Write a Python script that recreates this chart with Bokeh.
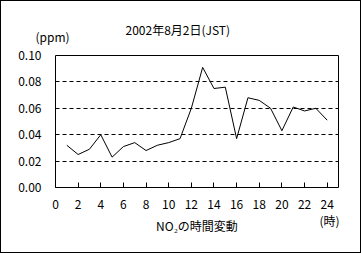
from bokeh.plotting import figure
from bokeh.models import Range1d, FixedTicker, NumeralTickFormatter, Title, LinearAxis
from bokeh.embed import file_html
from bokeh.resources import INLINE

hours = list(range(1, 25))
no2 = [0.032, 0.025, 0.029, 0.040, 0.023, 0.031, 0.034, 0.028, 0.032, 0.034,
       0.037, 0.060, 0.091, 0.075, 0.076, 0.037, 0.068, 0.066, 0.060, 0.043,
       0.061, 0.058, 0.060, 0.051]
x_ticks = list(range(0, 25, 2))
y_ticks = [0.0, 0.02, 0.04, 0.06, 0.08, 0.10]
title_text = "2002年8月2日(JST)"
unit_text = "(ppm)"
hour_text = "(時)"
xlabel_text = "NO₂の時間変動"
hour_pos = 24.2

FONT = "Noto Sans CJK JP"
W, H = 361, 253
L, R, T, B = 55, 23, 55, 66

p = figure(width=W, height=H, output_backend="svg", toolbar_location=None, title=None,
           x_range=Range1d(0, 25), y_range=Range1d(0, 0.10),
           min_border_left=L, min_border_right=R, min_border_top=T, min_border_bottom=B)
p.background_fill_color = "white"
p.border_fill_color = None
p.outline_line_color = "black"
p.outline_line_width = 1
p.styles = {"outline": "1px solid black", "outline-offset": "-1px", "background-color": "white"}

p.line(hours, no2, line_color="black", line_width=1)

p.xgrid.visible = False
p.ygrid.grid_line_color = "black"
p.ygrid.grid_line_dash = "4 3"
p.ygrid.grid_line_width = 1

p.xaxis.ticker = FixedTicker(ticks=x_ticks)
p.xaxis.minor_tick_line_color = None
p.xaxis.major_tick_in = 5
p.xaxis.major_tick_out = 0
p.xaxis.axis_line_color = None
p.xaxis.major_label_standoff = 12
p.yaxis.ticker = FixedTicker(ticks=y_ticks)
p.yaxis.formatter = NumeralTickFormatter(format="0.00")
p.yaxis.minor_tick_line_color = None
p.yaxis.major_tick_line_color = None
p.yaxis.axis_line_color = None
p.yaxis.major_label_standoff = 8

ax2 = LinearAxis(ticker=FixedTicker(ticks=[hour_pos]),
                 major_label_overrides={hour_pos: hour_text},
                 axis_label=xlabel_text, axis_label_standoff=-15,
                 axis_label_text_font=FONT, axis_label_text_font_size="12px",
                 axis_label_text_font_style="normal", axis_label_text_color="black",
                 major_tick_in=0, major_tick_out=0, minor_tick_line_color=None,
                 major_tick_line_color=None, axis_line_color=None,
                 major_label_standoff=0)
p.add_layout(ax2, "below")

for ax in (p.xaxis[0], p.yaxis[0], ax2):
    ax.major_label_text_font = FONT
    ax.major_label_text_font_size = "12px"
    ax.major_label_text_color = "black"

p.add_layout(Title(text=unit_text, align="left", offset=-20, standoff=21,
                   text_font=FONT, text_font_size="12px", text_font_style="normal",
                   text_color="black"), "above")
p.add_layout(Title(text=title_text, align="left", offset=70, standoff=-45,
                   text_font=FONT, text_font_size="12px", text_font_style="normal",
                   text_color="black"), "above")

open("out.html", "w").write(file_html(p, INLINE))
